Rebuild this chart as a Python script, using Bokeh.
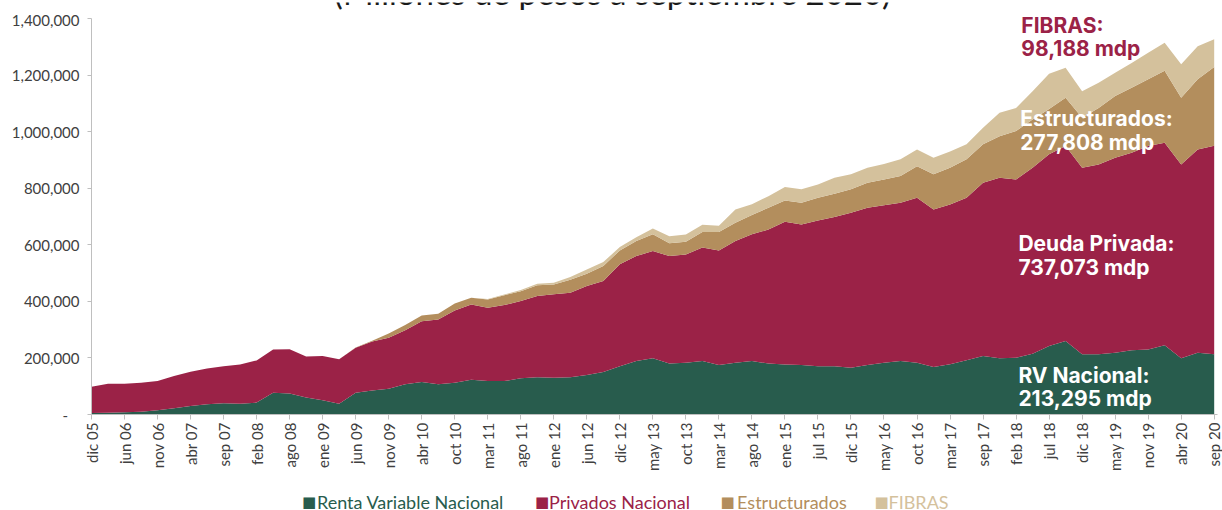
import math
from bokeh.plotting import figure
from bokeh.layouts import column
from bokeh.models import ColumnDataSource, Range1d, FixedTicker, NumeralTickFormatter, Label
from bokeh.embed import file_html
from bokeh.resources import INLINE

# ---------------- data (millones de pesos) ----------------
tick_labels = ["dic 05", "jun 06", "nov 06", "abr 07", "sep 07", "feb 08", "ago 08", "ene 09",
               "jun 09", "nov 09", "abr 10", "oct 10", "mar 11", "ago 11", "ene 12", "jun 12",
               "dic 12", "may 13", "oct 13", "mar 14", "ago 14", "ene 15", "jul 15", "dic 15",
               "may 16", "oct 16", "mar 17", "sep 17", "feb 18", "jul 18", "dic 18", "may 19",
               "nov 19", "abr 20", "sep 20"]

# samples every half tick interval (69 points), from dic 05 to sep 20
renta_variable = [5000, 6000, 8000, 10000, 15000, 22000, 30000, 36000, 40000, 38000,
                  42000, 77000, 74000, 60000, 50000, 38000, 77000, 85000, 91000, 107000,
                  115000, 107000, 112000, 123000, 118000, 118000, 128000, 132000, 130000, 132000,
                  140000, 150000, 171000, 189000, 199000, 180000, 183000, 189000, 175000, 183000,
                  189000, 180000, 177000, 175000, 171000, 171000, 165000, 175000, 183000, 189000,
                  183000, 168000, 178000, 192000, 207000, 199000, 201000, 215000, 242000, 260000,
                  213000, 213000, 218000, 227000, 230000, 245000, 199000, 218000, 213295]

privados = [93000, 103000, 101000, 102000, 103000, 114000, 121000, 127000, 131000, 139000,
            149000, 153000, 157000, 145000, 157000, 157000, 159000, 173000, 180000, 191000,
            215000, 229000, 256000, 266000, 259000, 269000, 273000, 287000, 295000, 298000,
            314000, 322000, 360000, 371000, 379000, 380000, 383000, 401000, 405000, 430000,
            448000, 474000, 504000, 497000, 515000, 527000, 548000, 556000, 557000, 560000,
            583000, 557000, 564000, 574000, 612000, 638000, 630000, 657000, 678000, 689000,
            659000, 671000, 690000, 698000, 719000, 716000, 685000, 719000, 737073]

estructurados = [0, 0, 0, 0, 0, 0, 0, 0, 0, 0,
                 0, 0, 0, 0, 0, 0, 1000, 3000, 15000, 18000,
                 20000, 20000, 24000, 24000, 30000, 35000, 35000, 38000, 35000, 46000,
                 44000, 53000, 49000, 53000, 59000, 45000, 45000, 55000, 65000, 65000,
                 68000, 77000, 76000, 77000, 80000, 82000, 83000, 88000, 91000, 94000,
                 112000, 124000, 130000, 136000, 136000, 147000, 171000, 171000, 160000, 171000,
                 177000, 200000, 218000, 230000, 236000, 254000, 236000, 248000, 277808]

fibras = [0, 0, 0, 0, 0, 0, 0, 0, 0, 0,
          0, 0, 0, 0, 0, 0, 0, 0, 0, 0,
          0, 0, 0, 0, 1000, 2000, 4000, 5000, 6000, 10000,
          15000, 14000, 12000, 14000, 21000, 25000, 25000, 26000, 22000, 47000,
          38000, 41000, 47000, 47000, 47000, 57000, 53000, 53000, 55000, 59000,
          59000, 59000, 58000, 53000, 59000, 83000, 82000, 100000, 125000, 106000,
          94000, 89000, 82000, 88000, 94000, 99000, 118000, 117000, 98188]

series_names = ["Renta Variable Nacional", "Privados Nacional", "Estructurados", "FIBRAS"]
colors = ["#285C4D", "#9B2247", "#B38E5D", "#D4C19C"]
subtitle = "(Millones de pesos a septiembre 2020)"
y_ticks = [0, 200000, 400000, 600000, 800000, 1000000, 1200000, 1400000]

BL, BR = 91, 5  # side borders shared by all stacked figures


def strip(h):
    f = figure(width=1222, height=h, output_backend="svg", toolbar_location=None,
               x_range=Range1d(BL, 1222 - BR), y_range=Range1d(0, h),
               x_axis_location=None, y_axis_location=None,
               min_border_left=BL, min_border_right=BR, min_border_top=0, min_border_bottom=0)
    f.grid.grid_line_color = None
    f.outline_line_color = None
    f.background_fill_color = "white"
    f.border_fill_color = "white"
    return f


# ---------------- top strip: subtitle (cut at the top, as in the source) ----------------
top = strip(10)
top.add_layout(Label(x=612, y=21, text=subtitle, text_color="#1a1a1a", text_font="Lato",
                     text_font_size="33px", text_baseline="alphabetic", text_align="center"))

# ---------------- main chart ----------------
x = [i * 0.5 for i in range(len(renta_variable))]
src = ColumnDataSource(dict(x=x, rv=renta_variable, pr=privados, es=estructurados, fi=fibras))

# the frame reaches 8 px above the 1,400,000 tick so that the top note is not clipped
p = figure(width=1222, height=475, output_backend="svg", toolbar_location=None,
           x_range=Range1d(0, 34.1), y_range=Range1d(0, 1428283),
           min_border_left=BL, min_border_right=BR, min_border_top=0, min_border_bottom=71)
p.background_fill_color = "white"
p.border_fill_color = "white"
p.outline_line_color = None
p.xgrid.grid_line_color = None
p.ygrid.grid_line_color = None

rends = p.varea_stack(stackers=["rv", "pr", "es", "fi"], x="x", color=colors, source=src)

ax = p.xaxis[0]
ax.ticker = FixedTicker(ticks=list(range(len(tick_labels))))
ax.major_label_overrides = {i: t for i, t in enumerate(tick_labels)}
ax.major_label_orientation = math.pi / 2
ax.major_label_text_font = "Lato"
ax.major_label_text_font_size = "15px"
ax.major_label_text_color = "#404040"
ax.major_label_standoff = 3
ax.axis_line_color = "#BFBFBF"
ax.major_tick_line_color = "#BFBFBF"
ax.major_tick_in = 0
ax.major_tick_out = 5
ax.minor_tick_line_color = None

ay = p.yaxis[0]
ay.ticker = FixedTicker(ticks=y_ticks)
ay.bounds = (y_ticks[0], y_ticks[-1])
ay.formatter = NumeralTickFormatter(format="0,0")
ay.major_label_overrides = {0: "-\u00a0\u00a0\u00a0"}
ay.major_label_text_font = "Lato"
ay.major_label_text_font_size = "15px"
ay.major_label_text_color = "#404040"
ay.major_label_standoff = 8
ay.axis_line_color = "#BFBFBF"
ay.major_tick_line_color = "#BFBFBF"
ay.major_tick_in = 0
ay.major_tick_out = 4
ay.minor_tick_line_color = None

ann = [
    ("FIBRAS:", 28.16, 1375000, "#9B2247"),
    (" 98,188 mdp", 28.16, 1293000, "#9B2247"),
    ("Estructurados:", 28.13, 1045000, "white"),
    ("277,808 mdp", 28.13, 960000, "white"),
    ("Deuda Privada:", 28.07, 603000, "white"),
    ("737,073 mdp", 28.07, 521000, "white"),
    ("RV Nacional:", 28.07, 138000, "white"),
    ("213,295 mdp", 28.07, 55000, "white"),
]
for t, xx, yy, c in ann:
    p.add_layout(Label(x=xx, y=yy, text=t, text_color=c, text_font="Inter",
                       text_font_style="bold", text_font_size="21px",
                       text_baseline="alphabetic", text_align="left"))

# ---------------- bottom strip: legend ----------------
bottom = strip(25)
legend_square_x = [301.5, 534.5, 720, 874]
legend_text_x = [316.5, 548.5, 736.6, 888]
for name, col, sx, tx in zip(series_names, colors, legend_square_x, legend_text_x):
    bottom.add_layout(Label(x=sx, y=9, text="\u25a0", text_color=col, text_font="DejaVu Sans",
                            text_font_size="15px", text_baseline="alphabetic", text_align="left"))
    bottom.add_layout(Label(x=tx, y=8.5, text=name, text_color=col, text_font="Lato",
                            text_font_size="18px", text_baseline="alphabetic", text_align="left"))

layout = column(top, p, bottom, spacing=0)
open("out.html", "w").write(file_html(layout, INLINE))
